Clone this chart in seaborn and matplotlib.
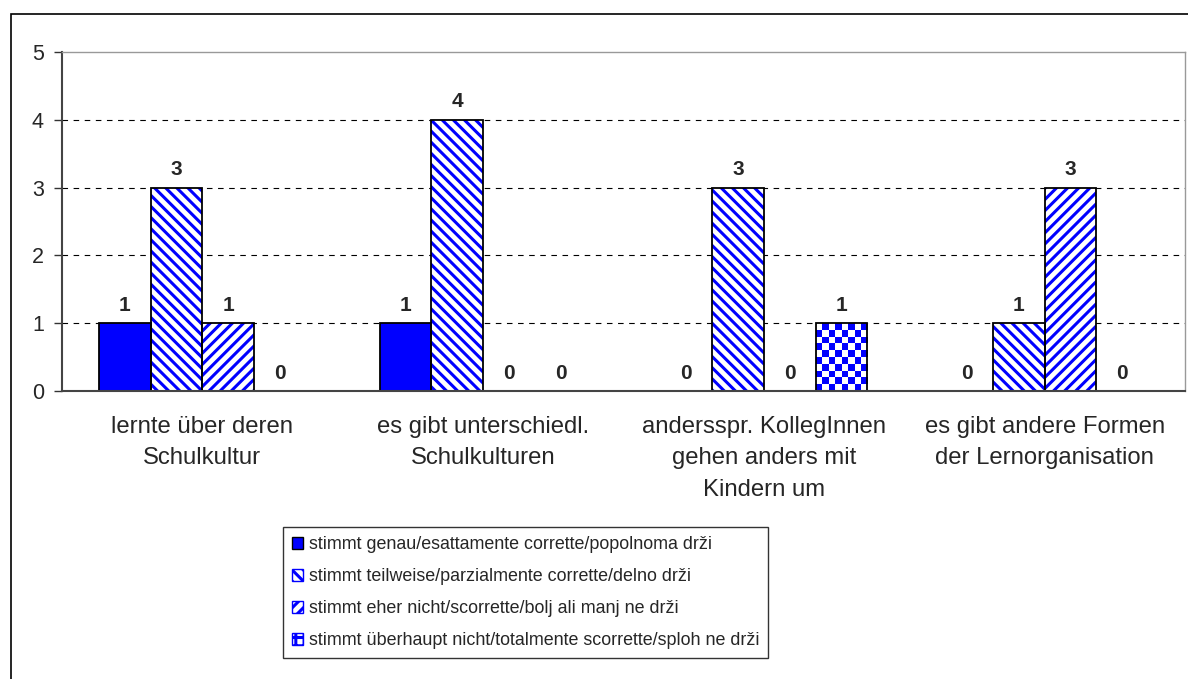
import numpy as np
import pandas as pd
import matplotlib
matplotlib.use("Agg")
import matplotlib.pyplot as plt
import matplotlib.patches as mpatches
import seaborn as sns

# chart data
categories = ["lernte über deren\nSchulkultur",
              "es gibt unterschiedl.\nSchulkulturen",
              "andersspr. KollegInnen\ngehen anders mit\nKindern um",
              "es gibt andere Formen\nder Lernorganisation"]
series = ["stimmt genau/esattamente corrette/popolnoma drži",
          "stimmt teilweise/parzialmente corrette/delno drži",
          "stimmt eher nicht/scorrette/bolj ali manj ne drži",
          "stimmt überhaupt nicht/totalmente scorrette/sploh ne drži"]
genau = [1, 1, 0, 0]
teilweise = [3, 4, 3, 1]
eher_nicht = [1, 0, 0, 3]
ueberhaupt_nicht = [0, 0, 1, 0]
y_ticks = [0, 1, 2, 3, 4, 5]

values = [genau, teilweise, eher_nicht, ueberhaupt_nicht]
df = pd.DataFrame({
    "category": np.repeat([categories], len(series), axis=0).ravel(),
    "series": np.repeat(series, len(categories)),
    "value": np.concatenate(values),
})

sns.set_style("white")
plt.rcParams["font.family"] = ["Liberation Sans", "DejaVu Sans"]
plt.rcParams["hatch.linewidth"] = 2.2

blue = "#0000FF"
hatches = [None, "\\\\\\", "///", None]
legend_hatches = [None, "\\\\\\", "///", "++"]

fig = plt.figure(figsize=(11.88, 6.79), dpi=100)
ax = fig.add_axes([0.0522, 0.4242, 0.9453, 0.4992])

sns.barplot(data=df, x="category", y="value", hue="series", order=categories,
            hue_order=series, width=0.737, gap=0, dodge=True, ax=ax,
            legend=False, errorbar=None, saturation=1)

for i, cont in enumerate(ax.containers):
    for p in cont.patches:
        p.set_linewidth(0)
        if i == 0:
            p.set_facecolor(blue)
            p.set_edgecolor(blue)
        else:
            p.set_facecolor("white")
            p.set_edgecolor(blue)
            if hatches[i]:
                p.set_hatch(hatches[i])
        if p.get_height() > 0:
            if i == 3:
                # checkerboard fill clipped to the bar
                x0, y0 = p.get_x(), p.get_y()
                w, h = p.get_width(), p.get_height()
                board = np.indices((10, 8)).sum(axis=0) % 2
                im = ax.imshow(board, cmap=matplotlib.colors.ListedColormap(["white", blue]),
                               extent=[x0, x0 + w, y0, y0 + h], aspect="auto",
                               interpolation="nearest", zorder=p.get_zorder() + 0.1)
                im.set_clip_path(p)
            ax.add_patch(mpatches.Rectangle((p.get_x(), p.get_y()), p.get_width(),
                                            p.get_height(), fill=False, edgecolor="black",
                                            linewidth=1.3, zorder=p.get_zorder() + 0.2))
    ax.bar_label(cont, fmt="%d", padding=6, fontsize=15, fontweight="bold")

ax.set_xlim(-0.5, len(categories) - 0.5)
ax.set_ylim(0, 5)
ax.set_yticks(y_ticks)
ax.set_yticklabels([str(t) for t in y_ticks], fontsize=15.5)
ax.set_xlabel("")
ax.set_ylabel("")
ax.tick_params(axis="x", which="major", length=0, labelsize=17.2, pad=18)
ax.set_xticks(np.arange(len(categories) + 1) - 0.5, minor=True)
ax.tick_params(axis="x", which="minor", length=6, width=1, color="#333333", direction="out")
ax.tick_params(axis="y", length=6, width=1, color="#333333", direction="out", left=True, pad=7)
for lab in ax.get_xticklabels():
    lab.set_linespacing(1.55)

for t in y_ticks[1:-1]:
    ax.axhline(t, color="black", linewidth=0.8, linestyle=(0, (5, 5)), zorder=0.5)

ax.set_axisbelow(True)
for side in ["top", "right"]:
    ax.spines[side].set_color("#999999")
    ax.spines[side].set_linewidth(1)
for side in ["left", "bottom"]:
    ax.spines[side].set_color("#444444")
    ax.spines[side].set_linewidth(1.5)

# legend
handles = []
for i in range(len(series)):
    if i == 0:
        h = mpatches.Patch(facecolor=blue, edgecolor="black", linewidth=1)
    else:
        h = mpatches.Patch(facecolor="white", edgecolor=blue, hatch=legend_hatches[i], linewidth=1)
    handles.append(h)
leg = fig.legend(handles, series, loc="upper left", bbox_to_anchor=(0.238, 0.224),
                 fontsize=12.9, frameon=True, fancybox=False, edgecolor="black",
                 handlelength=0.65, handleheight=0.65, handletextpad=0.3,
                 labelspacing=0.84, borderpad=0.5, borderaxespad=0)
leg.get_frame().set_linewidth(1)

# outer chart border
fig.patches.append(mpatches.Rectangle((11 / 1188, -0.05), 1.1, 1 - 14 / 679 + 0.05,
                                      transform=fig.transFigure, fill=False,
                                      edgecolor="black", linewidth=1.2, zorder=0))

fig.savefig("out.png", dpi=100)
